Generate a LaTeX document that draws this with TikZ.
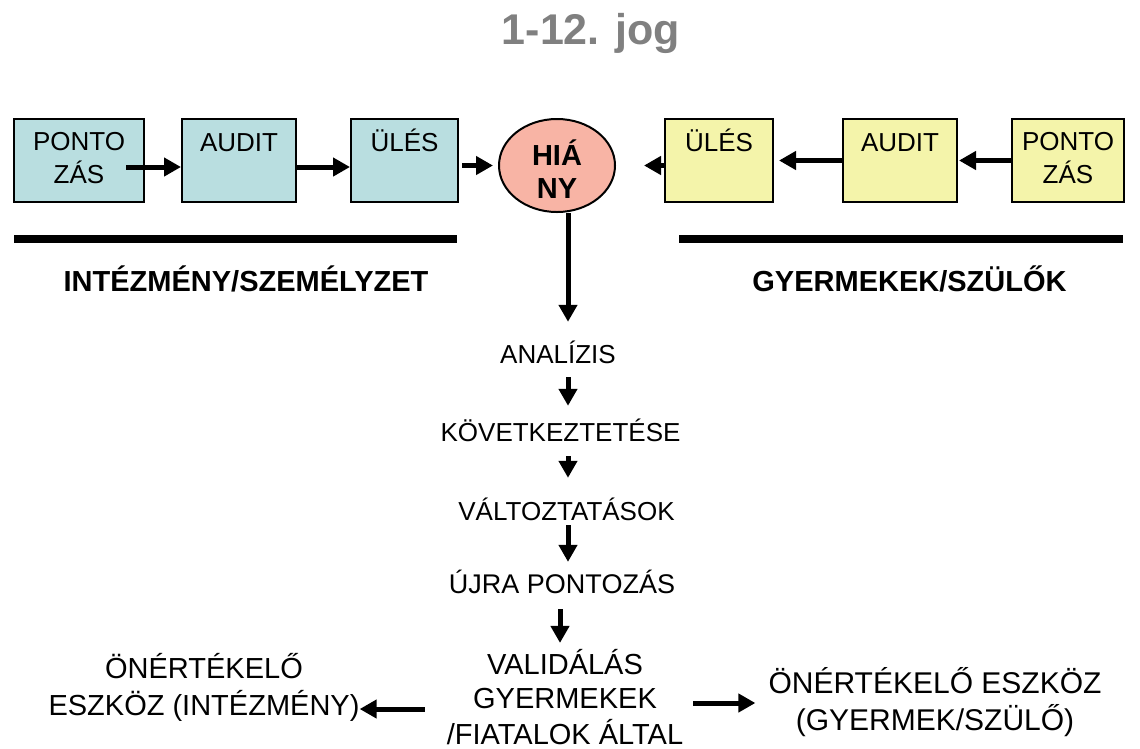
\documentclass[tikz,border=0pt]{standalone}
\usepackage{fontspec}
\setmainfont{Liberation Sans}
\usepackage{xcolor}
\usetikzlibrary{arrows.meta,positioning,shapes.geometric}

\definecolor{boxblue}{RGB}{185,222,224}
\definecolor{boxyellow}{RGB}{244,244,170}
\definecolor{hianyred}{RGB}{248,180,165}
\definecolor{titlegray}{RGB}{128,128,128}

\begin{document}
\begin{tikzpicture}[
			x=1pt, y=-1pt,
			every node/.style={font=\fontsize{26}{31}\selectfont, inner sep=0pt},
			title/.style={font=\fontsize{43}{48}\selectfont\bfseries, text=titlegray,
				text height=30pt, text depth=0pt},
			group/.style={font=\fontsize{29}{34}\selectfont\bfseries,
				text height=20.8pt, text depth=0pt},
			box/.style={
				draw,
				line width=2pt,
				align=center,
				minimum height=83pt
			},
			bluebox/.style={box, fill=boxblue},
			yellowbox/.style={box, fill=boxyellow},
			flow/.style={text height=18.6pt, text depth=0pt},
			arrow/.style={-{Triangle[length=17pt,width=18pt]}, line width=5pt},
			bar/.style={line width=8pt}
			]
			
			\useasboundingbox (0,0) rectangle (1140,748);
			
			% ---- Title ----
			\node[title] (title) at (591,29) {1-12. jog};
			
			% ---- Left chain ----
			\node[bluebox, minimum width=130pt] (ponto1) at (79,160.5)
			{\strut PONTO\\\strut ZÁS};
			\node[bluebox, minimum width=114pt, right=36pt of ponto1] (audit1)
			{\strut AUDIT\\\strut};
			\node[bluebox, minimum width=107pt, right=53pt of audit1] (ules1)
			{\strut ÜLÉS\\\strut};
			
			% ---- Centre ----
			\node[ellipse, draw, line width=2pt, fill=hianyred,
				minimum width=116pt, minimum height=93pt] (hiany) at (557,165.5) {};
			\node[align=center, font=\fontsize{29}{32.5}\selectfont\bfseries]
			(hianytxt) at (557,174) {\strut HIÁ\\\strut NY};
			\coordinate (spine) at ([xshift=11pt]hiany.south);
			
			% ---- Right chain ----
			\node[yellowbox, minimum width=112pt] (ponto2) at (1068,160.5)
			{\strut PONTO\\\strut ZÁS};
			\node[yellowbox, minimum width=114pt, left=53pt of ponto2] (audit2)
			{\strut AUDIT\\\strut};
			\node[yellowbox, minimum width=108pt, left=68pt of audit2] (ules2)
			{\strut ÜLÉS\\\strut};
			
			% ---- Bars and group names ----
			\draw[bar] (14,239) -- (457,239);
			\draw[bar] (679,239) -- (1123,239);
			\node[group] (staff) at (246,281) {INTÉZMÉNY/SZEMÉLYZET};
			\node[group] (family) at (909.5,281) {GYERMEKEK/SZÜLŐK};
			
			% ---- Flow ----
			\node[flow] (analizis) at (558,354) {ANALÍZIS};
			\node[flow] (kovet) at (560.5,432) {KÖVETKEZTETÉSE};
			\node[flow] (valtoz) at (566.5,511) {VÁLTOZTATÁSOK};
			\node[flow, font=\fontsize{27}{32}\selectfont, text height=19.3pt]
			(ujra) at (562,584) {ÚJRA PONTOZÁS};
			\node[align=center, font=\fontsize{29}{34}\selectfont] (valid) at (565,697)
			{\strut VALIDÁLÁS\\\strut GYERMEKEK\\/FIATALOK ÁLTAL};
			\node[align=center, font=\fontsize{29}{35}\selectfont] (selfinst) at (204,689.5)
			{\strut ÖNÉRTÉKELŐ\\\strut ESZKÖZ (INTÉZMÉNY)};
			\node[align=center, font=\fontsize{30}{33}\selectfont] (selfchild) at (935,703.6)
			{\strut ÖNÉRTÉKELŐ ESZKÖZ\\\strut (GYERMEK/SZÜLŐ)};
			
			% ---- Chain arrows ----
			\draw[arrow] ([xshift=-19pt,yshift=-6.5pt]ponto1.east) -- ([yshift=-6.5pt]audit1.west);
			\draw[arrow] ([yshift=-6.5pt]audit1.east) -- ([yshift=-6.5pt]ules1.west);
			\draw[arrow, shorten <=3pt, shorten >=5pt] (ules1.east |- hiany.west) -- (hiany.west);
			\draw[arrow, shorten >=28pt] (ules2.west |- hiany.east) -- (hiany.east);
			\draw[arrow, shorten >=5pt] (audit2.west) -- (ules2.east);
			\draw[arrow, shorten >=1pt] (ponto2.west) -- (audit2.east);
			
			% ---- Flow arrows ----
			\draw[arrow, shorten >=22.7pt] (spine) -- (spine |- analizis.north);
			\draw[arrow, shorten <=13.7pt, shorten >=16.7pt] (analizis.south -| spine) -- (kovet.north -| spine);
			\draw[arrow, shorten <=14.7pt, shorten >=23.7pt] (kovet.south -| spine) -- (valtoz.north -| spine);
			\draw[arrow, shorten <=4.7pt, shorten >=12.3pt] (valtoz.south -| spine) -- (ujra.north -| spine);
			\draw[arrow, shorten <=15.3pt, shorten >=6pt] ([xshift=-2pt]ujra.south) -- ([xshift=-2pt]ujra.south |- valid.north);
			
			% ---- Outputs ----
			\draw[arrow, shorten <=22pt] ([yshift=-12pt]valid.west) -- ([yshift=-12pt]valid.west -| selfinst.east);
			\draw[arrow, shorten <=10pt, shorten >=13pt] ([yshift=-6pt]valid.east) -- ([yshift=-6pt]valid.east -| selfchild.west);
			
		\end{tikzpicture}
\end{document}
